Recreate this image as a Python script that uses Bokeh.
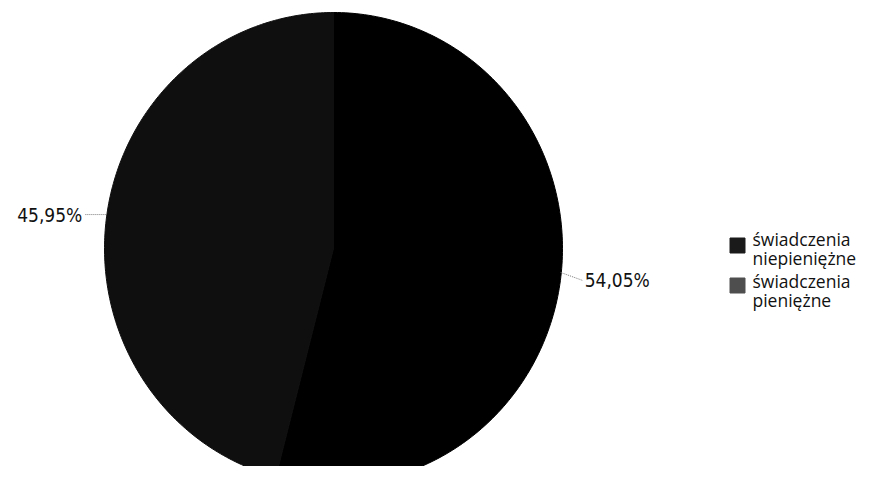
import numpy as np
from bokeh.plotting import figure
from bokeh.models import Range1d
from bokeh.core.properties import value
from bokeh.embed import file_html
from bokeh.resources import INLINE

# ---- data ----
categories = ["świadczenia niepieniężne", "świadczenia pieniężne"]
legend_lines = [["świadczenia", "niepieniężne"], ["świadczenia", "pieniężne"]]
shares = [54.05, 45.95]
labels = ["54,05%", "45,95%"]
slice_colors = ["#000000", "#0f0f0f"]
swatch_colors = ["#1a1a1a", "#4e4e4e"]

W, H = 860, 466
p = figure(width=W, height=H, output_backend="svg", toolbar_location=None,
           x_range=Range1d(0, W), y_range=Range1d(H, 0),
           min_border=0, outline_line_color=None)
p.axis.visible = False
p.grid.visible = False
p.background_fill_color = "white"
p.border_fill_color = "white"

cx, cy, rx, ry = 333.0, 248.0, 229.0, 236.0

frac = np.array(shares) / sum(shares)
starts = np.concatenate([[0.0], np.cumsum(frac)[:-1]])
ends = np.cumsum(frac)

xs, ys = [], []
for s, e in zip(starts, ends):
    t = np.linspace(s, e, 200) * 2 * np.pi
    xs.append(np.concatenate([[cx], cx + rx * np.sin(t), [cx]]).tolist())
    ys.append(np.concatenate([[cy], cy - ry * np.cos(t), [cy]]).tolist())
p.patches(xs, ys, fill_color=slice_colors, line_color=slice_colors, line_width=1)

# labels with leader lines
for s, e, lab in zip(starts, ends, labels):
    m = (s + e) / 2 * 2 * np.pi
    ex = cx + rx * np.sin(m)
    ey = cy - ry * np.cos(m)
    side = 1 if np.sin(m) >= 0 else -1
    lx = ex + side * 22
    ly = ey + (2 if side > 0 else -4)
    p.line([ex, lx], [ey - (6 if side > 0 else 4), ly], line_color="#7a7a7a",
           line_width=1, line_dash="1 1")
    p.text([lx + side * 2], [ly], text=[lab],
           text_align="left" if side > 0 else "right", text_baseline="middle",
           text_font=value("DejaVu Sans Condensed"), text_font_size="19px",
           text_color="#111111")

# legend
sw_y = [245, 285]
base_y = [[238, 257], [280, 299]]
for i, lines in enumerate(legend_lines):
    p.rect([737], [sw_y[i]], width=15, height=15, fill_color=swatch_colors[i],
           line_color=swatch_colors[i])
    for j, ln in enumerate(lines):
        p.text([752], [base_y[i][j]], text=[ln], text_align="left",
               text_baseline="alphabetic", text_font=value("Open Sans"),
               text_font_size="17.5px", text_color="#111111")

open("out.html", "w").write(file_html(p, INLINE))
